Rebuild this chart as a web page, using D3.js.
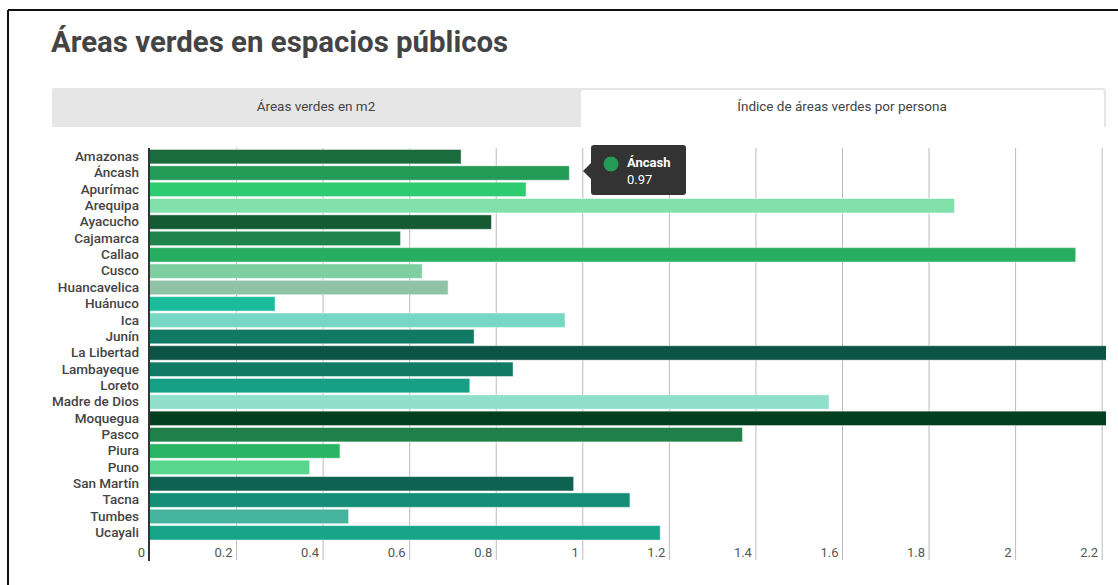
<!DOCTYPE html>
<html>
<head>
<meta charset="utf-8">
<script src="https://cdn.jsdelivr.net/npm/d3@7"></script>
<style>
  html, body { margin: 0; padding: 0; background: #fff; }
  svg { display: block; font-family: Roboto, "Noto Sans", sans-serif; }
</style>
</head>
<body>
<svg id="chart" width="1118" height="585"></svg>
<script>
const categories = ["Amazonas","Áncash","Apurímac","Arequipa","Ayacucho","Cajamarca","Callao","Cusco","Huancavelica","Huánuco","Ica","Junín","La Libertad","Lambayeque","Loreto","Madre de Dios","Moquegua","Pasco","Piura","Puno","San Martín","Tacna","Tumbes","Ucayali"];
const values = [0.72,0.97,0.87,1.86,0.79,0.58,2.14,0.63,0.69,0.29,0.96,0.75,2.35,0.84,0.74,1.57,2.4,1.37,0.44,0.37,0.98,1.11,0.46,1.18];
const colors = ["#1a6b3d","#239a56","#2ecc71","#82e0aa","#145a32","#1e8449","#28ae60","#7dcea0","#8fc3a5","#1abc9c","#76d7c4","#117864","#0b5345","#117a65","#16a085","#8fdfcb","#013f20","#1f8049","#28b463","#58d68d","#0e6251","#138d75","#45b39d","#17a589"];
const xTicks = [0,0.2,0.4,0.6,0.8,1,1.2,1.4,1.6,1.8,2,2.2];
const title = "Áreas verdes en espacios públicos";
const tabs = ["Áreas verdes en m2","Índice de áreas verdes por persona"];
const tooltip = {name: "Áncash", value: 0.97};

const svg = d3.select("#chart");

// frame
svg.append("line").attr("x1",8).attr("x2",1118).attr("y1",10).attr("y2",10).attr("stroke","#111").attr("stroke-width",2);
svg.append("line").attr("x1",8).attr("x2",8).attr("y1",10).attr("y2",585).attr("stroke","#111").attr("stroke-width",2);

// title
svg.append("text").attr("x",51).attr("y",52).attr("font-size",29.4).attr("font-weight","bold").attr("fill","#444").text(title);

// tabs
svg.append("rect").attr("x",52).attr("y",88).attr("width",1054).attr("height",39).attr("rx",3).attr("fill","#e6e6e6");
svg.append("rect").attr("x",52).attr("y",120).attr("width",1054).attr("height",7).attr("fill","#e6e6e6");
svg.append("rect").attr("x",581).attr("y",90).attr("width",523).attr("height",40).attr("rx",3).attr("fill","#fff");
svg.append("text").attr("x",316).attr("y",111).attr("text-anchor","middle").attr("font-size",13.5).attr("fill","#444").text(tabs[0]);
svg.append("text").attr("x",842).attr("y",111).attr("text-anchor","middle").attr("font-size",13.5).attr("fill","#444").text(tabs[1]);

// scales
const x = d3.scaleLinear().domain([0, 2.21]).range([149.5, 1106]);
const y = d3.scaleBand().domain(categories).range([148.5, 541]).paddingInner(0.12).paddingOuter(0.06);

const g = svg.append("g");
g.append("defs").append("clipPath").attr("id","clip").append("rect").attr("x",149).attr("y",140).attr("width",957).attr("height",420);

// gridlines + tick labels
const xAxis = d3.axisBottom(x).tickValues(xTicks).tickSize(0).tickFormat(d => String(+d.toFixed(1)));
const ax = g.append("g").attr("transform","translate(0,557)").call(xAxis);
ax.select(".domain").remove();
ax.selectAll(".tick text").attr("text-anchor","end").attr("dx", d => d === 0 ? -5 : -4).attr("dy",0).attr("y",0)
  .attr("font-size",13).attr("fill","#555").attr("font-family","Roboto, sans-serif");
ax.selectAll(".tick").filter(d => d !== 0).append("line").attr("y1",-409).attr("y2",3).attr("stroke","#bbb").attr("stroke-width",1);

// bars
g.append("g").attr("clip-path","url(#clip)").selectAll("rect").data(categories).join("rect")
  .attr("x", x(0)).attr("y", d => y(d)).attr("height", y.bandwidth())
  .attr("width", (d,i) => x(values[i]) - x(0))
  .attr("fill", (d,i) => colors[i])
  .attr("stroke","rgba(255,255,255,0.45)").attr("stroke-width",1);

// y labels
const yAxis = d3.axisLeft(y).tickSize(0).tickPadding(0);
const ay = g.append("g").attr("transform","translate(139,0)").call(yAxis);
ay.select(".domain").remove();
ay.selectAll(".tick text").attr("font-size",13.5).attr("fill","#444").attr("font-family","Roboto, sans-serif").attr("font-weight",500);

// axis line
g.append("line").attr("x1",149).attr("x2",149).attr("y1",148).attr("y2",561).attr("stroke","#333").attr("stroke-width",2);

// tooltip
const tt = svg.append("g");
tt.append("rect").attr("x",591).attr("y",145).attr("width",95).attr("height",50).attr("rx",3).attr("fill","#333");
tt.append("path").attr("d","M591,163 L583,171 L591,179 Z").attr("fill","#333");
tt.append("circle").attr("cx",611).attr("cy",164).attr("r",7.5).attr("fill",colors[categories.indexOf(tooltip.name)]);
tt.append("text").attr("x",627).attr("y",167).attr("font-size",13).attr("font-weight","bold").attr("fill","#fff").text(tooltip.name);
tt.append("text").attr("x",627).attr("y",184).attr("font-size",13).attr("fill","#fff").text(tooltip.value);
</script>
</body>
</html>
